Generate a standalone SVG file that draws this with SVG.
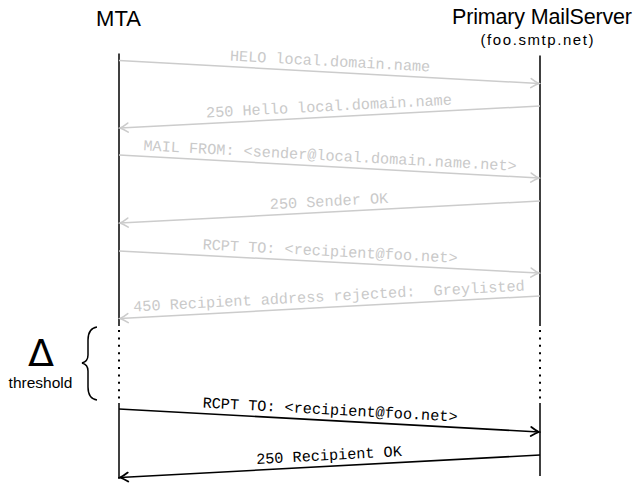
<svg xmlns="http://www.w3.org/2000/svg" width="633" height="483" viewBox="0 0 633 483">
  <style>
    .head { font-family: "Liberation Sans", Arial, sans-serif; fill: #000; }
    .delta { font-family: "DejaVu Sans", sans-serif; font-size: 38px; fill: #000; }
    .life { stroke: #000; stroke-width: 1.5; fill: none; }
    .dots { stroke: #000; stroke-width: 2; stroke-dasharray: 2 5.4; fill: none; }
    .msg { stroke-width: 1.5; fill: none; }
    .old { stroke: #cccccc; }
    .new { stroke: #000; stroke-width: 1.6; }
    .lbl { font-family: "Liberation Mono", "DejaVu Sans Mono", monospace; font-size: 15.2px; text-anchor: middle; white-space: pre; }
    .lbl.old { fill: #cacaca; stroke: none; }
    .lbl.new { fill: #000; stroke: none; }
  </style>
  <defs>
    <marker id="tipGrey" markerUnits="userSpaceOnUse" markerWidth="12" markerHeight="12" viewBox="-10 -6 12 12" refX="0" refY="0" orient="auto">
      <path d="M-8,-4.5 Q-3,-1 0,0 Q-3,1 -8,4.5" fill="none" stroke="#cccccc" stroke-width="1.6" stroke-linecap="round"/>
    </marker>
    <marker id="tipBlack" markerUnits="userSpaceOnUse" markerWidth="12" markerHeight="12" viewBox="-10 -6 12 12" refX="0" refY="0" orient="auto">
      <path d="M-8,-4.5 Q-3,-1 0,0 Q-3,1 -8,4.5" fill="none" stroke="#000" stroke-width="1.8" stroke-linecap="round"/>
    </marker>
  </defs>

  <rect width="633" height="483" fill="#fff"/>

  <!-- MTA lifeline -->
  <g id="mta">
    <text class="head" x="118.5" y="26" font-size="22" text-anchor="middle">MTA</text>
    <line class="life" x1="119" y1="53.5" x2="119" y2="326"/>
    <line class="dots" x1="119" y1="330" x2="119" y2="400"/>
    <line class="life" x1="119" y1="403" x2="119" y2="479"/>
  </g>

  <!-- Primary mail server lifeline -->
  <g id="server">
    <text class="head" x="542" y="24" font-size="21.5" text-anchor="middle" textLength="180">Primary MailServer</text>
    <text class="head" x="537" y="45" font-size="15" text-anchor="middle" textLength="113">(foo.smtp.net)</text>
    <line class="life" x1="540" y1="55.5" x2="540" y2="326"/>
    <line class="dots" x1="540" y1="330" x2="540" y2="400"/>
    <line class="life" x1="540" y1="403" x2="540" y2="476"/>
  </g>

  <!-- Greylisting delay -->
  <g id="threshold">
    <text class="delta" x="41" y="366" text-anchor="middle">Δ</text>
    <text class="head" x="40.5" y="388" font-size="15.5" text-anchor="middle">threshold</text>
    <path d="M97,327 C90,328 88,333 88,340 L88,355 C88,360 86,362 82,363 C86,364 88,366 88,371 L88,387 C88,394 90,399 97,400" fill="none" stroke="#000" stroke-width="1.5"/>
  </g>

  <!-- SMTP exchange -->
  <g id="connectors">
    <line class="msg old" x1="119" y1="60.5" x2="539" y2="83.5" marker-end="url(#tipGrey)"/>
    <text class="lbl old" transform="translate(329.5,72) rotate(3.13)" y="-6">HELO local.domain.name</text>

    <line class="msg old" x1="540" y1="106" x2="120" y2="128" marker-end="url(#tipGrey)"/>
    <text class="lbl old" transform="translate(329.5,117) rotate(-3.0)" y="-6">250 Hello local.domain.name</text>

    <line class="msg old" x1="119" y1="155" x2="539" y2="178" marker-end="url(#tipGrey)"/>
    <text class="lbl old" transform="translate(329.5,166.5) rotate(3.13)" y="-6">MAIL FROM: &lt;sender@local.domain.name.net&gt;</text>

    <line class="msg old" x1="540" y1="201" x2="120" y2="223" marker-end="url(#tipGrey)"/>
    <text class="lbl old" transform="translate(329.5,212) rotate(-3.0)" y="-6">250 Sender OK</text>

    <line class="msg old" x1="119" y1="251" x2="539" y2="273" marker-end="url(#tipGrey)"/>
    <text class="lbl old" transform="translate(329.5,262) rotate(3.0)" y="-6">RCPT TO: &lt;recipient@foo.net&gt;</text>

    <line class="msg old" x1="540" y1="296" x2="120" y2="318.5" marker-end="url(#tipGrey)"/>
    <text class="lbl old" transform="translate(329.5,307) rotate(-3.06)" y="-6">450 Recipient address rejected:  Greylisted</text>

    <line class="msg new" x1="119" y1="409" x2="539" y2="432" marker-end="url(#tipBlack)"/>
    <text class="lbl new" transform="translate(329.5,420.5) rotate(3.13)" y="-6">RCPT TO: &lt;recipient@foo.net&gt;</text>

    <line class="msg new" x1="540" y1="455" x2="120" y2="477.5" marker-end="url(#tipBlack)"/>
    <text class="lbl new" transform="translate(329.5,466) rotate(-3.06)" y="-6">250 Recipient OK</text>
  </g>
</svg>
